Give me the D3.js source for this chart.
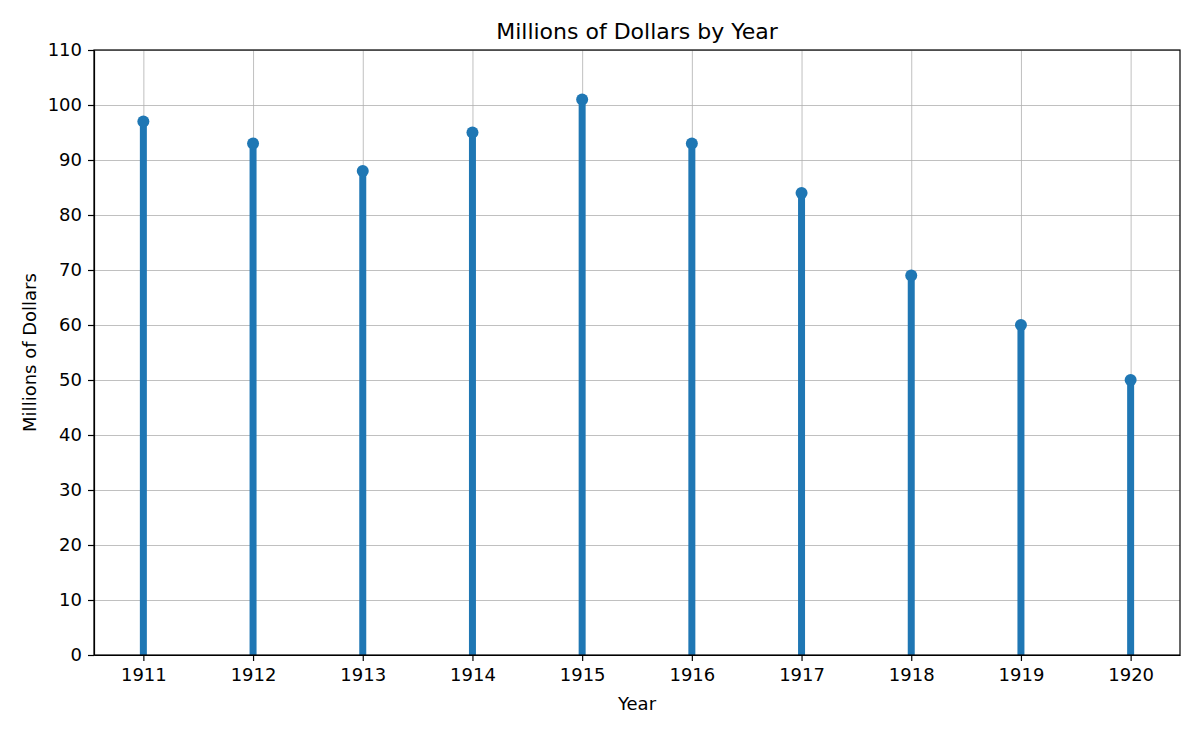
<!DOCTYPE html>
<html lang="en">
<head>
<meta charset="UTF-8">
<title>Millions of Dollars by Year</title>
<script src="https://d3js.org/d3.v7.min.js"></script>
<style>
  body { margin: 0; background: #fff; }
  text { font-family: "DejaVu Sans", sans-serif; fill: #000; }
  .grid line { stroke: #b0b0b0; stroke-width: 0.8; }
  .grid path { display: none; }
  .axis path, .axis line { stroke: #000; stroke-width: 1.2; }
</style>
</head>
<body>
<svg width="1200" height="733"></svg>
<script>
const years = [1911, 1912, 1913, 1914, 1915, 1916, 1917, 1918, 1919, 1920];
const dollars = [97, 93, 88, 95, 101, 93, 84, 69, 60, 50];
const yTicks = [0, 10, 20, 30, 40, 50, 60, 70, 80, 90, 100, 110];

const plotL = 94, plotR = 1180, plotT = 50, plotB = 655;
const svg = d3.select("svg");

const x = d3.scaleLinear().domain([1910.55, 1920.45]).range([plotL, plotR]);
const y = d3.scaleLinear().domain([0, 110]).range([plotB, plotT]);

// grid
svg.append("g").attr("class", "grid")
  .attr("transform", "translate(0," + plotB + ")")
  .call(d3.axisBottom(x).tickValues(years).tickSize(-(plotB - plotT)).tickFormat(""));
svg.append("g").attr("class", "grid")
  .attr("transform", "translate(" + plotL + ",0)")
  .call(d3.axisLeft(y).tickValues(yTicks).tickSize(-(plotR - plotL)).tickFormat(""));

// stems
svg.append("g").selectAll("line")
  .data(years)
  .enter()
  .append("line")
  .attr("x1", d => x(d))
  .attr("x2", d => x(d))
  .attr("y1", y(0))
  .attr("y2", (d, i) => y(dollars[i]))
  .attr("stroke", "#1f77b4")
  .attr("stroke-width", 7);

// markers
svg.append("g").selectAll("circle")
  .data(years)
  .enter()
  .append("circle")
  .attr("cx", d => x(d))
  .attr("cy", (d, i) => y(dollars[i]))
  .attr("r", 6)
  .attr("fill", "#1f77b4");

// frame
svg.append("rect")
  .attr("x", plotL).attr("y", plotT)
  .attr("width", plotR - plotL).attr("height", plotB - plotT)
  .attr("fill", "none").attr("stroke", "#000").attr("stroke-width", 1.2);

// axes
const xAxis = svg.append("g").attr("class", "axis")
  .attr("transform", "translate(0," + plotB + ")")
  .call(d3.axisBottom(x).tickValues(years).tickFormat(d3.format("d")).tickSize(6).tickPadding(7).tickSizeOuter(0));
xAxis.selectAll("text").style("font-size", "18px");

const yAxis = svg.append("g").attr("class", "axis")
  .attr("transform", "translate(" + plotL + ",0)")
  .call(d3.axisLeft(y).tickValues(yTicks).tickSize(6).tickPadding(6).tickSizeOuter(0));
yAxis.selectAll("text").style("font-size", "18px");

// labels
svg.append("text")
  .attr("x", (plotL + plotR) / 2).attr("y", 39)
  .attr("text-anchor", "middle")
  .style("font-size", "22px")
  .text("Millions of Dollars by Year");

svg.append("text")
  .attr("x", (plotL + plotR) / 2).attr("y", 710)
  .attr("text-anchor", "middle")
  .style("font-size", "18px")
  .text("Year");

svg.append("text")
  .attr("transform", "translate(36," + (plotT + plotB) / 2 + ") rotate(-90)")
  .attr("text-anchor", "middle")
  .style("font-size", "18px")
  .text("Millions of Dollars");
</script>
</body>
</html>
